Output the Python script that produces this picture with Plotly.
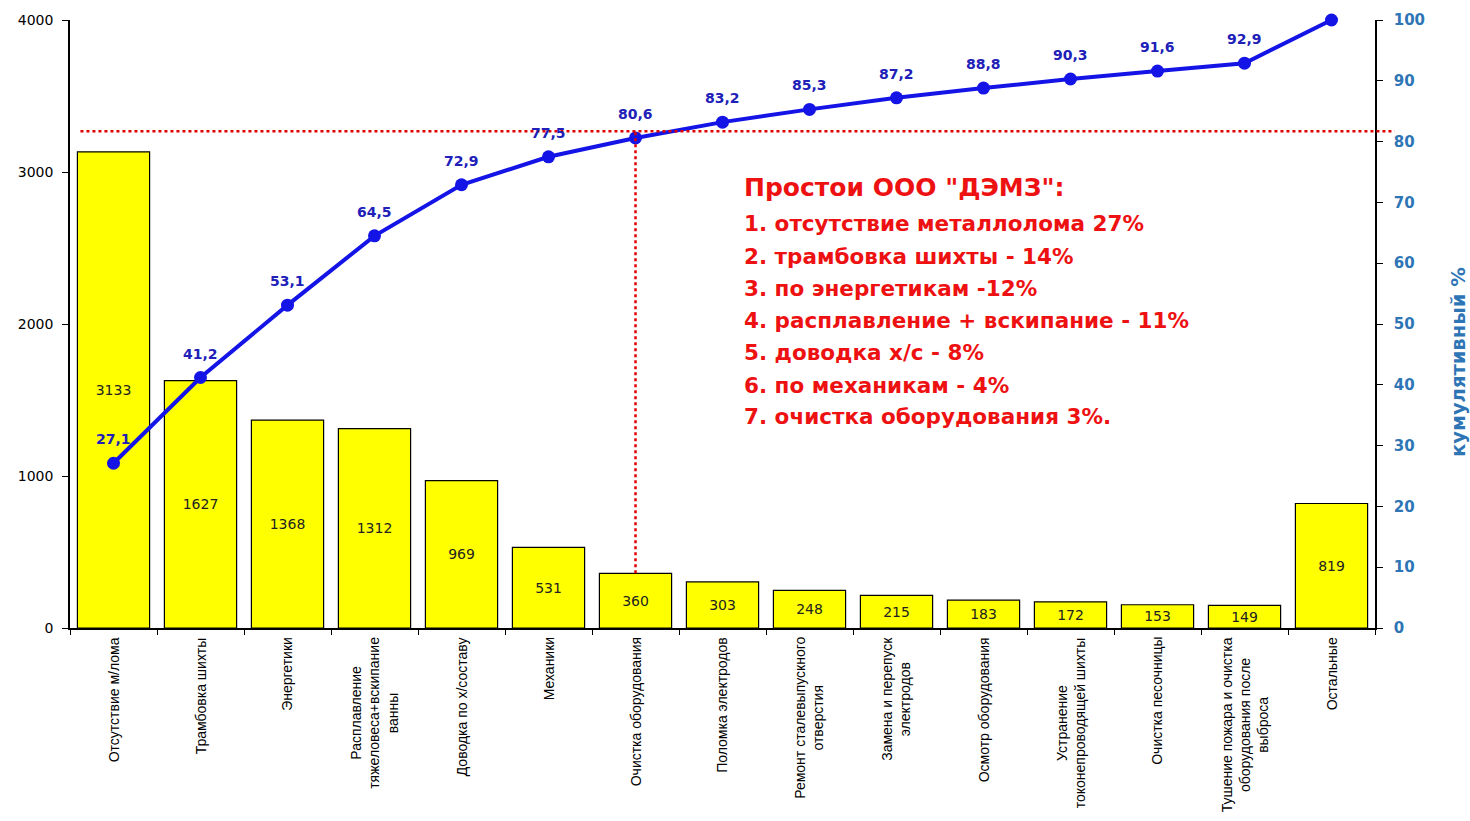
import plotly.graph_objects as go

categories = [
    "Отсутствие м/лома",
    "Трамбовка шихты",
    "Энергетики",
    "Расплавление<br>тяжеловеса+вскипание<br>ванны",
    "Доводка по х/составу",
    "Механики",
    "Очистка оборудования",
    "Поломка электродов",
    "Ремонт сталевыпускного<br>отверстия",
    "Замена и перепуск<br>электродов",
    "Осмотр оборудования",
    "Устранение<br>токонепроводящей шихты",
    "Очистка песочницы",
    "Тушение пожара и очистка<br>оборудования после<br>выброса",
    "Остальные",
]
downtime = [3133, 1627, 1368, 1312, 969, 531, 360, 303, 248, 215, 183, 172, 153, 149, 819]
cumulative = [27.1, 41.2, 53.1, 64.5, 72.9, 77.5, 80.6, 83.2, 85.3, 87.2, 88.8, 90.3, 91.6, 92.9, 100]
left_ticks = [0, 1000, 2000, 3000, 4000]
right_ticks = [0, 10, 20, 30, 40, 50, 60, 70, 80, 90, 100]
threshold = 81.7
note_title = "Простои ООО \"ДЭМЗ\":"
note_lines = [
    "1. отсутствие металлолома 27%",
    "2. трамбовка шихты - 14%",
    "3. по энергетикам -12%",
    "4. расплавление + вскипание - 11%",
    "5. доводка х/с - 8%",
    "6. по механикам - 4%",
    "7. очистка оборудования 3%.",
]

PLOT_TOP, PLOT_H = 20, 608
def paper_y(px):
    return (PLOT_TOP + PLOT_H - px) / PLOT_H

fig = go.Figure()
fig.add_trace(go.Bar(
    x=categories, y=downtime,
    marker=dict(color="#ffff00", line=dict(color="black", width=1.2)),
    width=0.83,
    text=[str(v) for v in downtime],
    textposition="inside", insidetextanchor="middle", constraintext="none",
    textfont=dict(family="DejaVu Sans", size=14, color="#222222"),
    showlegend=False,
))
fig.add_trace(go.Scatter(
    x=categories, y=cumulative, yaxis="y2",
    mode="lines+markers",
    line=dict(color="#1414e6", width=4),
    marker=dict(color="#1414e6", size=13),
    cliponaxis=False,
    showlegend=False,
))

# cumulative labels above points
for c, v in zip(categories, cumulative):
    if v >= 100:
        continue
    fig.add_annotation(
        x=c, y=v, xref="x", yref="y2", text=("%.1f" % v).replace(".", ","),
        showarrow=False, yanchor="bottom", yshift=14,
        font=dict(family="DejaVu Sans", size=14, color="#2020b8", weight="bold"),
    )

# category labels (rotated, centred lines)
for c in categories:
    fig.add_annotation(
        x=c, y=-0.012, xref="x", yref="paper", text=c, textangle=-90,
        showarrow=False, xanchor="center", yanchor="top", align="center",
        font=dict(family="Liberation Sans, Arial", size=14, color="black"),
    )

# Pareto threshold lines
fig.add_shape(type="line", xref="paper", yref="y2", x0=0.008, x1=1.015, y0=threshold, y1=threshold,
              line=dict(color="#e00000", width=2.5, dash="dot"))
fig.add_shape(type="line", xref="x", yref="y", x0=6, x1=6, y0=downtime[6], y1=threshold * 40,
              line=dict(color="#e00000", width=2.5, dash="dot"))

# note block
fig.add_annotation(
    xref="paper", yref="paper", x=(742 - 70) / 1305, y=paper_y(188), xanchor="left", yanchor="middle",
    text="<b>%s</b>" % note_title, showarrow=False,
    font=dict(family="DejaVu Sans", size=25, color="#ee1111"),
)
line_y = [223, 256, 288, 320, 352, 385, 416]
for s, py in zip(note_lines, line_y):
    fig.add_annotation(
        xref="paper", yref="paper", x=(742 - 70) / 1305, y=paper_y(py), xanchor="left", yanchor="middle",
        text="<b>%s</b>" % s, showarrow=False,
        font=dict(family="DejaVu Sans", size=21.5, color="#ee1111"),
    )

# right axis title
fig.add_annotation(
    xref="paper", yref="paper", x=(1458 - 70) / 1305, y=paper_y(362), xanchor="center", yanchor="middle",
    text="<b>кумулятивный %</b>", textangle=-90, showarrow=False,
    font=dict(family="DejaVu Sans", size=19.5, color="#2e75b6"),
)

fig.update_layout(
    width=1470, height=821,
    margin=dict(l=70, r=95, t=20, b=193),
    paper_bgcolor="white", plot_bgcolor="white",
    xaxis=dict(
        type="category", tickson="boundaries", showticklabels=False,
        ticks="outside", ticklen=5, tickcolor="black",
        showline=True, linecolor="black", linewidth=1.5, showgrid=False,
        range=[-0.5, 14.5],
    ),
    yaxis=dict(
        range=[0, 4000], tickvals=left_ticks, showgrid=False, zeroline=False,
        ticks="outside", ticklen=6, tickcolor="black",
        showline=True, linecolor="black", linewidth=1.5,
        tickfont=dict(family="DejaVu Sans", size=14, color="black"),
        ticklabelstandoff=6,
    ),
    yaxis2=dict(
        range=[0, 100], tickvals=right_ticks, overlaying="y", side="right",
        showgrid=False, zeroline=False,
        ticks="outside", ticklen=6, tickcolor="black",
        showline=True, linecolor="black", linewidth=1.5,
        tickfont=dict(family="DejaVu Sans", size=15, color="#2e75b6", weight="bold"),
        ticklabelstandoff=8,
    ),
)

fig.write_html("out.html")
